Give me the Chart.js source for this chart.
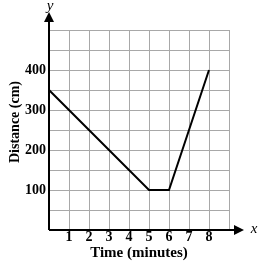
<!DOCTYPE html>
<html>
<head>
<meta charset="utf-8">
<script src="https://cdn.jsdelivr.net/npm/chart.js@4"></script>
<style>
  html, body { margin: 0; padding: 0; background: #fff; }
  #wrap { width: 262px; height: 266px; }
</style>
</head>
<body>
<div id="wrap"><canvas id="distChart" width="262" height="266"></canvas></div>
<script>
// --- Data ---
const times = [0, 5, 6, 8];
const distances = [350, 100, 100, 400];
const xTickLabels = [1, 2, 3, 4, 5, 6, 7, 8];
const yTickLabels = [100, 200, 300, 400];
const xTitle = 'Time (minutes)';
const yTitle = 'Distance (cm)';

const serif = '"Liberation Serif", "DejaVu Serif", serif';

// axis arrows, x / y letters and the vertical axis title
const axisArrows = {
    id: 'axisArrows',
    afterDraw(chart) {
        const { ctx, chartArea: a } = chart;
        ctx.save();
        ctx.strokeStyle = '#000';
        ctx.fillStyle = '#000';
        ctx.lineWidth = 2;
        ctx.beginPath();
        ctx.moveTo(a.left, a.bottom);
        ctx.lineTo(a.left, 20);
        ctx.moveTo(a.left, a.bottom);
        ctx.lineTo(236, a.bottom);
        ctx.stroke();
        // y arrow
        ctx.beginPath();
        ctx.moveTo(a.left, 12);
        ctx.lineTo(a.left - 5, 22);
        ctx.lineTo(a.left + 5, 22);
        ctx.closePath();
        ctx.fill();
        // x arrow
        ctx.beginPath();
        ctx.moveTo(244, a.bottom);
        ctx.lineTo(234, a.bottom - 5);
        ctx.lineTo(234, a.bottom + 5);
        ctx.closePath();
        ctx.fill();
        ctx.font = 'italic 15px ' + serif;
        ctx.textAlign = 'center';
        ctx.textBaseline = 'middle';
        ctx.fillText('y', a.left + 1, 6);
        ctx.fillText('x', 254, a.bottom - 1);
        // y title
        ctx.translate(15, 122);
        ctx.rotate(-Math.PI / 2);
        ctx.font = 'bold 14px ' + serif;
        ctx.fillText(yTitle, 0, 0);
        ctx.restore();
    }
};

const ctx = document.getElementById('distChart').getContext('2d');
new Chart(ctx, {
    type: 'line',
    data: {
        datasets: [{
            data: times.map((t, i) => ({ x: t, y: distances[i] })),
            borderColor: '#000',
            borderWidth: 2,
            pointRadius: 0,
            tension: 0
        }]
    },
    options: {
        responsive: false,
        animation: false,
        layout: { padding: { left: 0, right: 33, top: 30, bottom: 0 } },
        plugins: { legend: { display: false }, tooltip: { enabled: false } },
        scales: {
            x: {
                type: 'linear',
                min: 0, max: 9,
                afterFit: (s) => { s.height = 36; },
                grid: { color: '#a8a8a8', lineWidth: 1, drawTicks: false },
                border: { display: false },
                ticks: {
                    stepSize: 1, padding: -1, color: '#000',
                    maxRotation: 0, autoSkip: false,
                    font: { family: serif, size: 14, weight: 'bold' },
                    callback: (v) => xTickLabels.includes(v) ? String(v) : ''
                },
                title: {
                    display: true, text: xTitle, color: '#000',
                    padding: { top: 0, bottom: 4 },
                    font: { family: serif, size: 15, weight: 'bold' }
                }
            },
            y: {
                min: 0, max: 500,
                afterFit: (s) => { s.width = 49; },
                grid: { color: '#a8a8a8', lineWidth: 1, drawTicks: false },
                border: { display: false },
                ticks: {
                    stepSize: 50, padding: 3, color: '#000', autoSkip: false,
                    font: { family: serif, size: 14, weight: 'bold' },
                    callback: (v) => yTickLabels.includes(v) ? String(v) : ''
                }
            }
        }
    },
    plugins: [axisArrows]
});
</script>
</body>
</html>
